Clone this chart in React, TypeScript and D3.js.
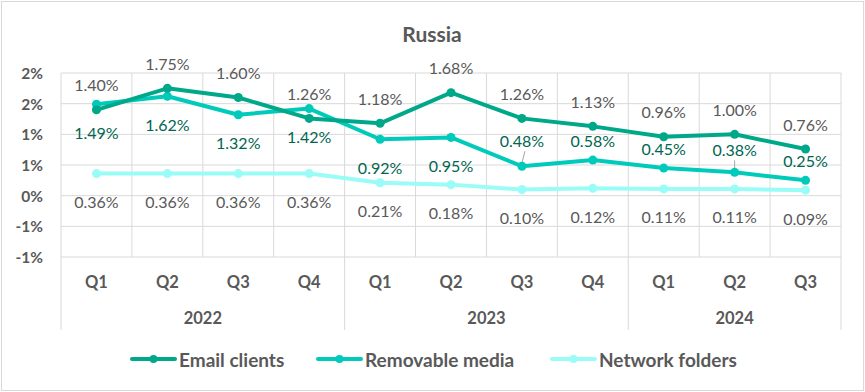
import React from 'react';
import * as d3 from 'd3';

const quarters = ['Q1', 'Q2', 'Q3', 'Q4', 'Q1', 'Q2', 'Q3', 'Q4', 'Q1', 'Q2', 'Q3'];
const years = ['2022', '2023', '2024'];
const yearSpans = [4, 4, 3];

const emailClients = [1.40, 1.75, 1.60, 1.26, 1.18, 1.68, 1.26, 1.13, 0.96, 1.00, 0.76];
const removableMedia = [1.49, 1.62, 1.32, 1.42, 0.92, 0.95, 0.48, 0.58, 0.45, 0.38, 0.25];
const networkFolders = [0.36, 0.36, 0.36, 0.36, 0.21, 0.18, 0.10, 0.12, 0.11, 0.11, 0.09];

const yTicks = [-1, -0.5, 0, 0.5, 1, 1.5, 2];

const W = 865;
const H = 392;
const FONT = 'Lato, "Open Sans", sans-serif';
const GRID = '#D9D9D9';
const TEXT = '#595959';

const series = [
  { name: 'Email clients', values: emailClients, color: '#00A88A', labelColor: TEXT },
  { name: 'Removable media', values: removableMedia, color: '#00CBBB', labelColor: '#00664F' },
  { name: 'Network folders', values: networkFolders, color: '#9AFCF6', labelColor: TEXT },
];

// excel style rounding for the axis (half away from zero)
const fmtTick = (v: number) => {
  const r = Math.round(Math.abs(v));
  return (v < 0 && r !== 0 ? '-' : '') + r + '%';
};
const fmtLabel = (v: number) => v.toFixed(2) + '%';

export default function App() {
  const left = 61;
  const right = 841;
  const top = 73;
  const bottom = 257;

  const x = d3.scaleBand<number>()
    .domain(d3.range(quarters.length))
    .range([left, right]);
  const y = d3.scaleLinear().domain([-1, 2]).range([bottom, top]);
  const cx = (i: number) => (x(i) ?? 0) + x.bandwidth() / 2;

  const line = d3.line<number>()
    .x((_, i) => cx(i))
    .y(d => y(d));

  // year group boundaries
  const yearStarts = yearSpans.map((_, k) => d3.sum(yearSpans.slice(0, k)));

  // label placement per series
  const labelY = (s: number, i: number, v: number) => {
    const py = y(v);
    if (s === 0) return py - 25;
    if (s === 2) return py + 28;
    if (v > 0.9) return py + 28;
    if (i === 6) return py - 26;
    if (i === 9) return py - 23;
    return py - 20;
  };
  const leaders = [6, 9];

  const legendX = [132, 318, 552];

  return (
    <svg width={W} height={H} style={{ position: 'absolute', left: 0, top: 0 }} fontFamily={FONT}>
      <rect x={0} y={0} width={W} height={H} fill="#fff" />
      <rect x={1.5} y={1.5} width={W - 3} height={H - 3} fill="none" stroke={GRID} strokeWidth={1} />

      <text x={432} y={33} textAnchor="middle" dominantBaseline="central" fontSize={21} fontWeight={700} fill={TEXT}>
        Russia
      </text>

      {/* horizontal grid */}
      {yTicks.map(t => (
        <g key={t}>
          <line x1={left} x2={right} y1={y(t)} y2={y(t)} stroke={GRID} strokeWidth={1} />
          <text x={43} y={y(t)} textAnchor="end" dominantBaseline="central" fontSize={15.5} fontWeight={700} fill={TEXT}>
            {fmtTick(t)}
          </text>
        </g>
      ))}

      {/* vertical grid: quarter lines stop at axis, year lines go through labels */}
      {d3.range(quarters.length + 1).map(i => {
        const xx = i === quarters.length ? right : (x(i) ?? 0);
        const isYear = i === quarters.length || yearStarts.includes(i);
        return (
          <line key={i} x1={xx} x2={xx} y1={top} y2={isYear ? 330 : bottom} stroke={GRID} strokeWidth={1} />
        );
      })}

      {quarters.map((q, i) => (
        <text key={i} x={cx(i)} y={282} textAnchor="middle" dominantBaseline="central" fontSize={16.5} fontWeight={700} fill={TEXT}>
          {q}
        </text>
      ))}
      {years.map((yr, k) => {
        const x0 = x(yearStarts[k]) ?? 0;
        const w = yearSpans[k] * x.bandwidth();
        return (
          <text key={yr} x={x0 + w / 2} y={318} textAnchor="middle" dominantBaseline="central" fontSize={16.5} fontWeight={700} fill={TEXT}>
            {yr}
          </text>
        );
      })}

      {/* leader lines */}
      {leaders.map(i => (
        <line key={i}
          x1={cx(i) + (i === 6 ? 3 : 0)} x2={cx(i)}
          y1={labelY(1, i, removableMedia[i]) + 11} y2={y(removableMedia[i]) - 3}
          stroke="#A6A6A6" strokeWidth={1} />
      ))}

      {/* series lines, back to front */}
      {[2, 1, 0].map(s => {
        const ser = series[s];
        return (
          <g key={ser.name}>
            <path d={line(ser.values) ?? ''} fill="none" stroke={ser.color} strokeWidth={4} strokeLinejoin="round" strokeLinecap="round" />
            {ser.values.map((v, i) => (
              <circle key={i} cx={cx(i)} cy={y(v)} r={4.5} fill={ser.color} />
            ))}
          </g>
        );
      })}

      {/* data labels */}
      {series.map((ser, s) => ser.values.map((v, i) => (
        <text key={ser.name + i} x={cx(i)} y={labelY(s, i, v)} textAnchor="middle" dominantBaseline="central"
          fontSize={16} fill={ser.labelColor}>
          {fmtLabel(v)}
        </text>
      )))}

      {/* legend */}
      {series.map((ser, s) => (
        <g key={ser.name} transform={`translate(${legendX[s]},359)`}>
          <line x1={0} x2={43} y1={0} y2={0} stroke={ser.color} strokeWidth={4} strokeLinecap="round" />
          <circle cx={21.5} cy={0} r={4} fill={ser.color} />
          <text x={47} y={0} dominantBaseline="central" fontSize={19} fontWeight={700} fill={TEXT}>
            {ser.name}
          </text>
        </g>
      ))}
    </svg>
  );
}
